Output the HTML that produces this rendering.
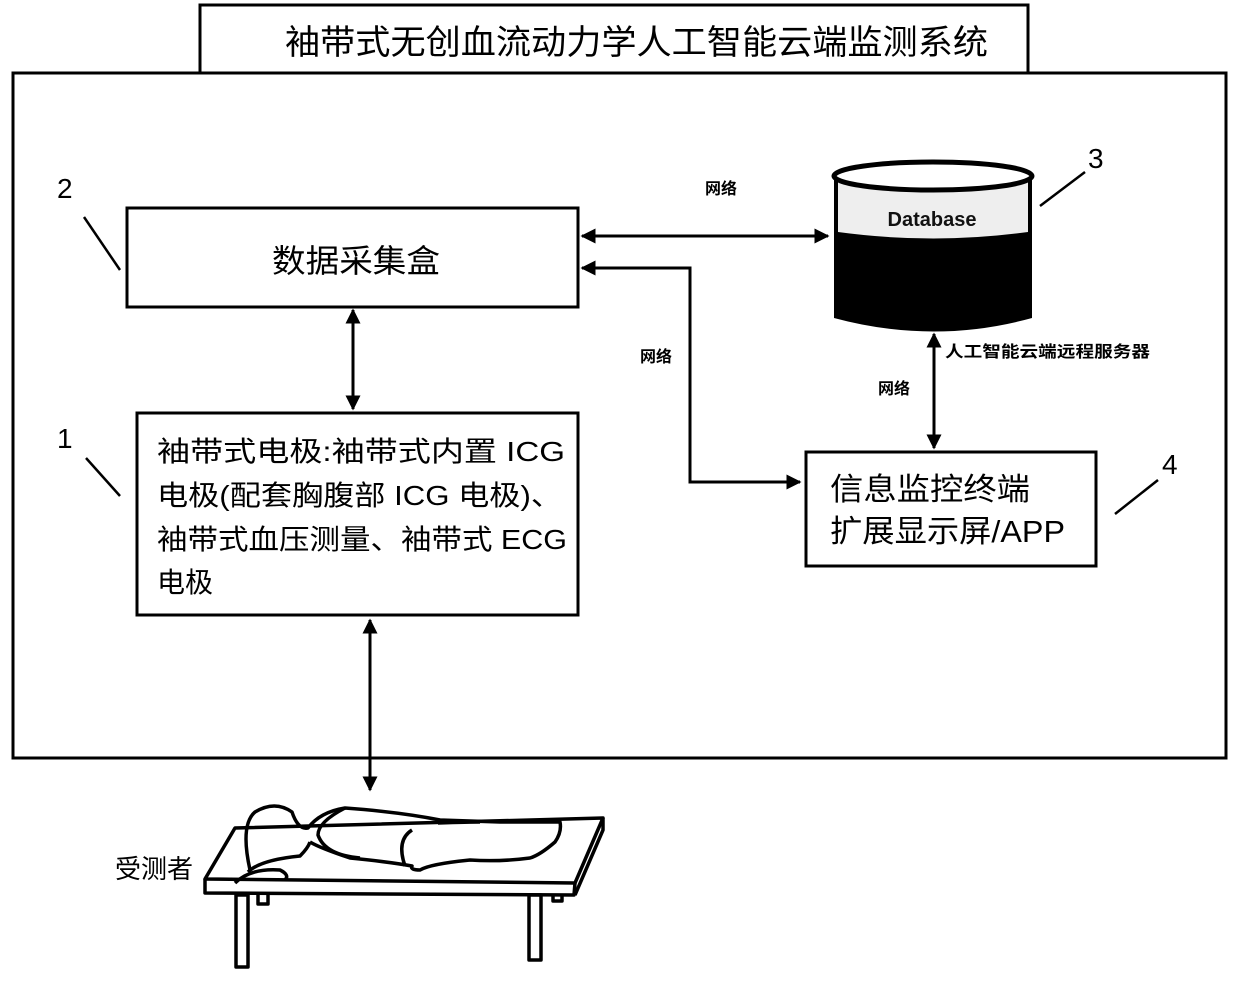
<!DOCTYPE html>
<html><head><meta charset="utf-8"><style>
html,body{margin:0;padding:0;background:#fff}
svg text{font-family:"Liberation Sans","Noto Sans CJK SC",sans-serif;fill:#000}
</style></head><body>
<svg width="1240" height="978" viewBox="0 0 1240 978" xmlns="http://www.w3.org/2000/svg">
<defs>
<marker id="a" viewBox="0 0 10 10" refX="9" refY="5" markerWidth="5" markerHeight="5" orient="auto-start-reverse"><path d="M0,0L10,5L0,10z" fill="#000"/></marker>
</defs>
<g fill="none" stroke="#000" stroke-width="3">
<rect x="200" y="5" width="828" height="68"/>
<rect x="13" y="73" width="1213" height="685"/>
<rect x="127" y="208" width="451" height="99"/>
<rect x="137" y="413" width="441" height="202"/>
<rect x="806" y="452" width="290" height="114"/>
</g>
<text x="285" y="54" font-size="34" textLength="703" lengthAdjust="spacingAndGlyphs">袖带式无创血流动力学人工智能云端监测系统</text>
<text x="272" y="272" font-size="32" textLength="168" lengthAdjust="spacingAndGlyphs">数据采集盒</text>
<g font-size="28">
<text x="157" y="461" textLength="408" lengthAdjust="spacingAndGlyphs">袖带式电极:袖带式内置 ICG</text>
<text x="157" y="505" textLength="405" lengthAdjust="spacingAndGlyphs">电极(配套胸腹部 ICG 电极)、</text>
<text x="157" y="549" textLength="410" lengthAdjust="spacingAndGlyphs">袖带式血压测量、袖带式 ECG</text>
<text x="157" y="592">电极</text>
</g>
<g font-size="31">
<text x="830" y="500" textLength="200" lengthAdjust="spacingAndGlyphs">信息监控终端</text>
<text x="830" y="542" textLength="235" lengthAdjust="spacingAndGlyphs">扩展显示屏/APP</text>
</g>
<!-- database -->
<path d="M834,177 L834,318 Q934,345 1032,318 L1032,177 Z" fill="#000"/>
<path d="M838,182 L838,232 Q934,245 1028,232 L1028,182 Q934,200 838,182Z" fill="#eee"/>
<ellipse cx="933" cy="176" rx="99" ry="14" fill="#fff" stroke="#000" stroke-width="5"/>
<text x="932" y="226" font-size="20" font-weight="bold" text-anchor="middle" style="fill:#111">Database</text>
<!-- connectors -->
<g stroke="#000" stroke-width="3" fill="none" marker-start="url(#a)" marker-end="url(#a)">
<line x1="582" y1="236" x2="828" y2="236"/>
<polyline points="582,268 690,268 690,482 800,482"/>
<line x1="353" y1="310" x2="353" y2="409"/>
<line x1="370" y1="620" x2="370" y2="790"/>
<line x1="934" y1="334" x2="934" y2="448"/>
</g>
<g font-size="16" font-weight="bold">
<text x="705" y="194">网络</text>
<text x="640" y="362">网络</text>
<text x="878" y="394">网络</text>
<text x="945" y="357" textLength="205" lengthAdjust="spacingAndGlyphs">人工智能云端远程服务器</text>
</g>
<!-- numbers -->
<g font-size="28"><text x="57" y="198">2</text><text x="57" y="448">1</text><text x="1088" y="168">3</text><text x="1162" y="474">4</text></g>
<g stroke="#000" stroke-width="2.5">
<line x1="84" y1="217" x2="120" y2="270"/>
<line x1="86" y1="458" x2="120" y2="496"/>
<line x1="1085" y1="172" x2="1040" y2="206"/>
<line x1="1158" y1="480" x2="1115" y2="514"/>
</g>
<!-- table -->
<g fill="none" stroke="#000" stroke-width="3.5" stroke-linejoin="round">
<path d="M205,879 L235,828 L603,818 L575,883 Z"/>
<path d="M205,879 L205,893 L574,895 L575,883"/>
<path d="M575,895 L603,830 L603,818"/>
<rect x="236" y="895" width="12" height="72"/>
<rect x="529" y="895" width="12" height="65"/>
<path d="M258,895 L258,904 L268,904 L268,895"/>
<path d="M553,895 L553,901 L562,901 L562,895"/>
<!-- person -->
<path d="M250,870 Q240,825 255,812 Q275,800 292,812 Q298,830 308,828 Q320,812 345,808 Q400,812 440,820 L500,822 L560,822 Q562,832 555,842 Q540,855 530,858 Q500,862 470,860 Q430,864 420,870 Q410,870 412,866 Q390,862 350,858 Q320,848 310,842"/>
<path d="M248,872 Q260,860 300,856 Q308,848 310,842"/>
<path d="M345,808 Q318,822 318,835 Q325,855 360,858"/>
<path d="M412,830 Q396,840 405,866"/>
<path d="M438,823 Q470,822 480,822"/>
<path d="M235,883 Q250,868 280,870 Q290,875 285,880"/>
</g>
<text x="115" y="878" font-size="26">受测者</text>
</svg>
</body></html>
